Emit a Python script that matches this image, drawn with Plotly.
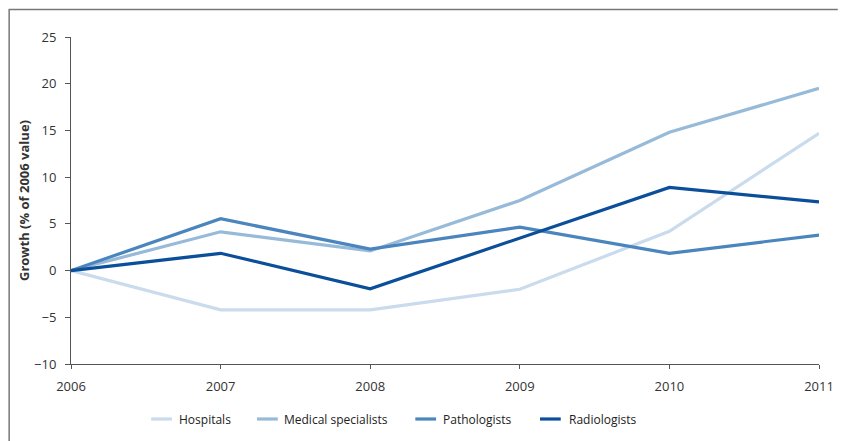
import plotly.graph_objects as go

years = [2006, 2007, 2008, 2009, 2010, 2011]
hospitals = [0, -4.2, -4.2, -2.0, 4.2, 14.7]
medical_specialists = [0, 4.15, 2.1, 7.5, 14.8, 19.5]
pathologists = [0, 5.55, 2.3, 4.65, 1.85, 3.8]
radiologists = [0, 1.85, -1.95, 3.5, 8.9, 7.35]

series = [
    ("Hospitals", hospitals, "#c9dbec"),
    ("Medical specialists", medical_specialists, "#97bad9"),
    ("Pathologists", pathologists, "#4a85bd"),
    ("Radiologists", radiologists, "#0b4f9a"),
]

W, H = 846, 441
ml, mr, mt, mb = 71, 19, 37, 77
pw, ph = W - ml - mr, H - mt - mb

def px(xp):  # page x -> paper
    return (xp - ml) / pw

def py(yp):  # page y -> paper
    return (H - mb - yp) / ph

fig = go.Figure()
for name, vals, col in series:
    fig.add_trace(go.Scatter(x=years, y=vals, mode="lines", name=name, showlegend=False,
                             line=dict(color=col, width=3.2)))

shapes = [
    dict(type="line", xref="paper", yref="paper", x0=px(8), x1=px(846),
         y0=py(9.5), y1=py(9.5), line=dict(color="#777777", width=1.5)),
    dict(type="line", xref="paper", yref="paper", x0=px(8.5), x1=px(8.5),
         y0=py(9.5), y1=py(441), line=dict(color="#777777", width=1.5)),
]
annotations = [
    dict(text="<b>Growth (% of 2006 value)</b>", xref="paper", yref="paper",
         x=px(23.5), y=py(201), xanchor="center", yanchor="middle", textangle=-90,
         showarrow=False, font=dict(size=13, color="#333333")),
]
leg_line_x = [152, 259, 419, 545]
leg_text_x = [178, 284, 445, 572]
leg_y = 419
for (name, vals, col), lx, tx in zip(series, leg_line_x, leg_text_x):
    shapes.append(dict(type="line", xref="paper", yref="paper", x0=px(lx), x1=px(lx + 21),
                       y0=py(leg_y), y1=py(leg_y), line=dict(color=col, width=3.2)))
    annotations.append(dict(text=name, xref="paper", yref="paper", x=px(tx), y=py(leg_y),
                            xanchor="left", yanchor="middle", showarrow=False,
                            font=dict(size=12, color="#222222")))

fig.update_layout(
    width=W, height=H,
    margin=dict(l=ml, r=mr, t=mt, b=mb),
    paper_bgcolor="white", plot_bgcolor="white",
    font=dict(family="Open Sans, Noto Sans, sans-serif", size=12, color="#333333"),
    showlegend=False,
    xaxis=dict(range=[2006, 2011], tickvals=years, ticktext=[str(y) for y in years],
               showgrid=False, zeroline=False, showline=True, linecolor="#555555", linewidth=1,
               ticks="outside", ticklen=4, tickcolor="#555555", ticklabelstandoff=6,
               tickfont=dict(size=13, color="#333333")),
    yaxis=dict(range=[-10, 25], tickvals=[-10, -5, 0, 5, 10, 15, 20, 25],
               showgrid=False, zeroline=False, showline=True, linecolor="#555555", linewidth=1,
               ticks="outside", ticklen=5, tickcolor="#555555", ticklabelstandoff=6,
               tickfont=dict(size=13, color="#333333")),
    shapes=shapes,
    annotations=annotations,
)

fig.write_html("out.html", config={"displayModeBar": False},
               post_script="document.body.style.margin='0';document.body.style.overflow='hidden';")
